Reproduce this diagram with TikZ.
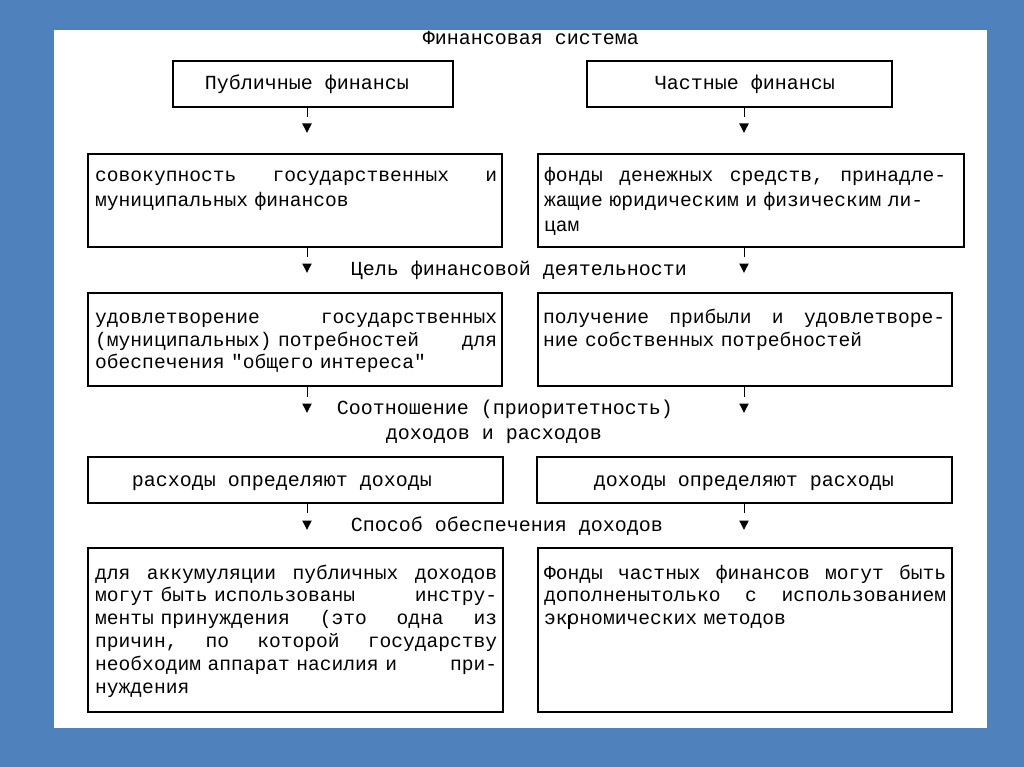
\documentclass[tikz,border=0pt]{standalone}
\usepackage{fontspec}
\newfontfamily\cour{Liberation Mono}[Ligatures=ResetAll]
\definecolor{bgblue}{RGB}{79,129,189}
\tikzset{
  tri/.pic={\fill[black] (-4.8,-4.5) -- (4.8,-4.5) -- (0,4.8) -- cycle;},
  box/.style={draw=black, line width=2pt, anchor=north west, inner sep=0pt},
  txt/.style={font=\cour\fontsize{19.6}{#1}\selectfont, anchor=north west, inner sep=0pt, text width=402pt, align=left},
  lbl/.style={font=\cour\fontsize{20}{24}\selectfont, inner sep=0pt, anchor=base},
  stem/.style={line width=1pt, shorten >=11pt},
}
\begin{document}
\begin{tikzpicture}[x=1pt,y=-1pt]
\useasboundingbox (0,0) rectangle (1024,767);
\fill[bgblue] (0,0) rectangle (1024,767);
\fill[white] (54,30) rectangle (987,728);

% title
\node[lbl] (title) at (531,44.5) {Финансовая система};

% row 1
\node[box, minimum width=280pt, minimum height=46pt] (pub) at (172,60) {};
\node[box, minimum width=305pt, minimum height=46pt] (priv) at (586,60) {};
\node[lbl] (pubt) at (307,89.5) {Публичные финансы};
\node[lbl] (privt) at (745,89.5) {Частные финансы};

% row 2
\node[box, minimum width=414pt, minimum height=93pt] (l2) at (87,153) {};
\node[box, minimum width=426pt, minimum height=93pt] (r2) at (537,153) {};
\node[txt=25] (l2t) at (95,164) {\strut совокупность \hfill государственных \hfill и\\муниципальных финансов};
\node[txt=25] (r2t) at (544,164) {\strut фонды \hfill денежных \hfill средств, \hfill принадле-\\жащие юридическим и физическим ли-\\цам};

\node[lbl] (goal) at (519,275.5) {Цель финансовой деятельности};

% row 3
\node[box, minimum width=414pt, minimum height=93pt] (l3) at (87,292) {};
\node[box, minimum width=414pt, minimum height=93pt] (r3) at (537,292) {};
\node[txt=22.6] (l3t) at (95,307.5) {\strut удовлетворение \hfill государственных\\(муниципальных) потребностей \hfill для\\обеспечения "общего интереса"};
\node[txt=22.6] (r3t) at (543,307.5) {\strut получение \hfill прибыли \hfill и \hfill удовлетворе-\\ние собственных потребностей};

\node[lbl] (ratio1) at (505,414.5) {Соотношение (приоритетность)};
\node[lbl] (ratio2) at (494,439.5) {доходов и расходов};

% row 4
\node[box, minimum width=415pt, minimum height=46pt] (l4) at (87,456) {};
\node[box, minimum width=415pt, minimum height=46pt] (r4) at (536,456) {};
\node[lbl] (l4t) at (282,486.5) {расходы определяют доходы};
\node[lbl] (r4t) at (744,486.5) {доходы определяют расходы};

\node[lbl] (way) at (507,531.5) {Способ обеспечения доходов};

% row 5
\node[box, minimum width=415pt, minimum height=164pt] (l5) at (87,547) {};
\node[box, minimum width=414pt, minimum height=164pt] (r5) at (537,547) {};
\node[txt=22.8] (l5t) at (95,563) {\strut для \hfill аккумуляции \hfill публичных \hfill доходов\\могут быть использованы \hfill инстру-\\менты принуждения \hfill (это \hfill одна \hfill из\\причин, \hfill по \hfill которой \hfill государству\\необходим аппарат насилия и \hfill при-\\нуждения};
\node[txt=22.8] (r5t) at (544,563) {\strut Фонды \hfill частных \hfill финансов \hfill могут \hfill быть\\дополненытолько \hfill с \hfill использованием\\экономических методов};
\draw[line width=2pt] (569,615) -- (569,629);

% arrow tips
\coordinate (a1l) at (307,128); \coordinate (a1r) at (744,128);
\coordinate (a2l) at (307,268); \coordinate (a2r) at (744,268);
\coordinate (a3l) at (307,408); \coordinate (a3r) at (744,408);
\coordinate (a4l) at (307,525); \coordinate (a4r) at (744,525);
\foreach \c in {a1l,a1r,a2l,a2r,a3l,a3r,a4l,a4r} {\pic at (\c) {tri};}

% stems
\draw[stem] (pub.south -| a1l) -- (a1l);
\draw[stem] (priv.south -| a1r) -- (a1r);
\draw[stem] (l2.south -| a2l) -- (a2l);
\draw[stem] (r2.south -| a2r) -- (a2r);
\draw[stem] (l3.south -| a3l) -- (a3l);
\draw[stem] (r3.south -| a3r) -- (a3r);
\draw[stem, shorten >=12pt] (l4.south -| a4l) -- (a4l);
\draw[stem, shorten >=12pt] (r4.south -| a4r) -- (a4r);
\end{tikzpicture}
\end{document}
